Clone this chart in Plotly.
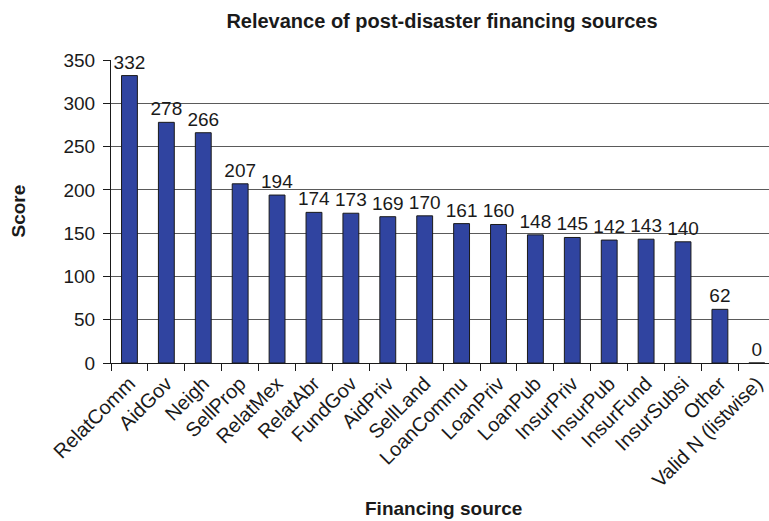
import plotly.graph_objects as go

# Financing sources and their relevance scores
sources = ["RelatComm", "AidGov", "Neigh", "SellProp", "RelatMex", "RelatAbr",
           "FundGov", "AidPriv", "SellLand", "LoanCommu", "LoanPriv", "LoanPub",
           "InsurPriv", "InsurPub", "InsurFund", "InsurSubsi", "Other",
           "Valid N (listwise)"]
scores = [332, 278, 266, 207, 194, 174, 173, 169, 170, 161, 160, 148,
          145, 142, 143, 140, 62, 0]
y_ticks = [0, 50, 100, 150, 200, 250, 300, 350]

FONT = "Liberation Sans, Arial, Helvetica, sans-serif"
INK = "#1a1a1a"

# plot area in pixels
L, R, T, B = 111, 769, 60, 363
W, H = R - L, B - T


def px_x(x):
    return (x - L) / W


def px_y(y):
    return (B - y) / H


fig = go.Figure(go.Bar(
    x=sources,
    y=scores,
    marker=dict(color="rgb(48,68,160)", line=dict(color=INK, width=1)),
    text=[str(v) for v in scores],
    textposition="outside",
    constraintext="none",
    textfont=dict(family=FONT, size=19, color=INK),
    cliponaxis=False,
))

fig.update_layout(
    width=769, height=521,
    margin=dict(l=L, r=769 - R, t=T, b=521 - B),
    paper_bgcolor="white", plot_bgcolor="white",
    bargap=0.57,
    showlegend=False,
    font=dict(family=FONT, color=INK),
    title=dict(text="<b>Relevance of post-disaster financing sources</b>",
               x=442 / 769, xanchor="center", xref="container",
               y=1 - 21 / 521, yanchor="middle", yref="container",
               font=dict(size=20, family=FONT, color=INK)),
)

fig.update_xaxes(
    range=[-0.5, 17.33],
    tickangle=-45,
    tickfont=dict(size=20, family=FONT, color=INK),
    tickson="boundaries", ticks="outside", ticklen=7, tickcolor=INK,
    showline=True, linecolor=INK, linewidth=1,
    showgrid=False,
)

fig.update_yaxes(
    range=[0, 350],
    tickvals=y_ticks,
    tickfont=dict(size=19, family=FONT, color=INK),
    ticks="outside", ticklen=7, tickcolor=INK,
    ticklabelstandoff=4,
    showline=True, linecolor=INK, linewidth=1,
    showgrid=True, gridcolor="#5a5a5a", gridwidth=1,
    zeroline=False,
)

fig.add_annotation(text="<b>Score</b>", xref="paper", yref="paper",
                   x=px_x(17.5), y=px_y(211), xanchor="center", yanchor="middle",
                   textangle=-90, showarrow=False,
                   font=dict(size=19, family=FONT, color=INK))
fig.add_annotation(text="<b>Financing source</b>", xref="paper", yref="paper",
                   x=px_x(443), y=px_y(508), xanchor="center", yanchor="middle",
                   showarrow=False,
                   font=dict(size=19, family=FONT, color=INK))

fig.write_html("out.html")
